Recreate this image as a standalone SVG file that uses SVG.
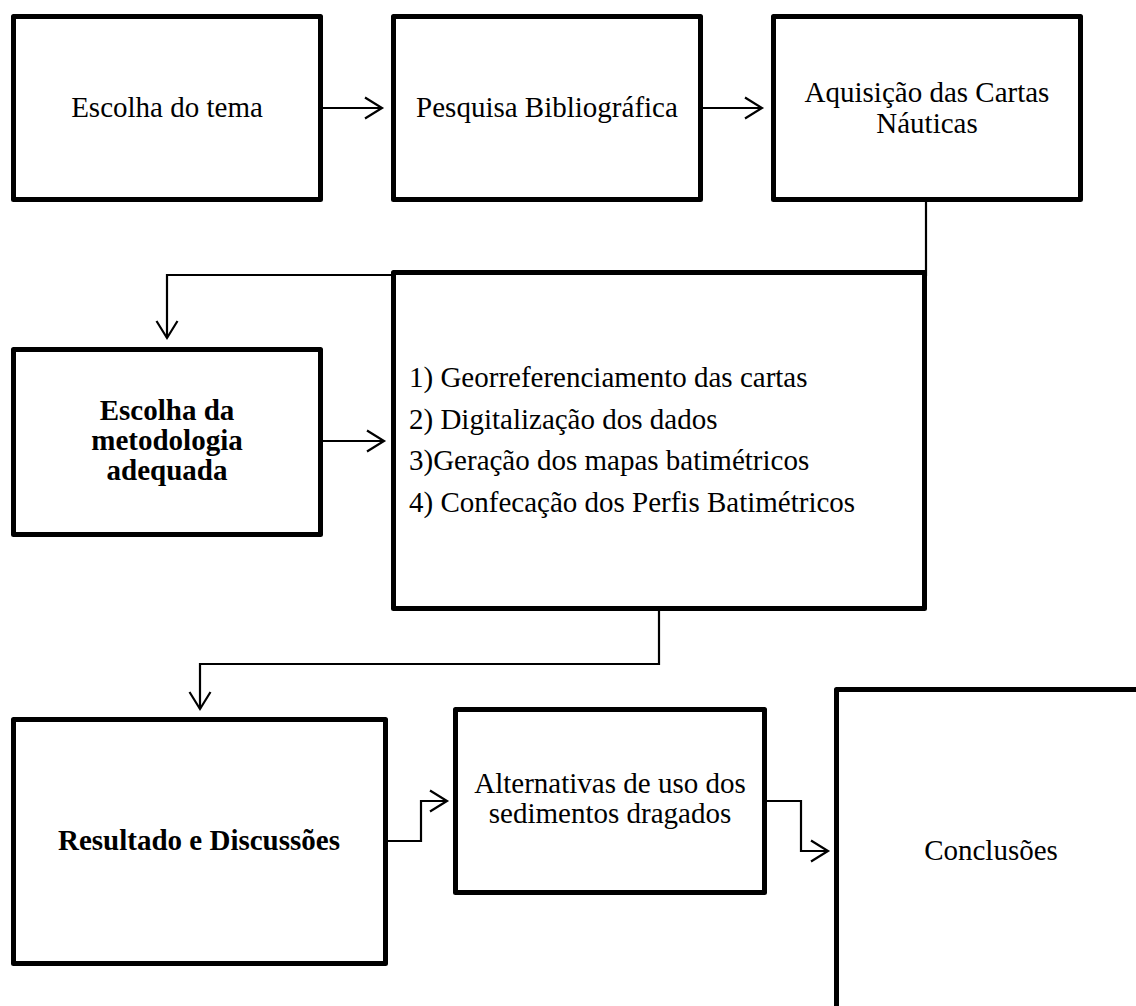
<svg xmlns="http://www.w3.org/2000/svg" width="1136" height="1006" viewBox="0 0 1136 1006">
<defs>
<style>
.box{fill:#fff;stroke:#000;stroke-width:5;stroke-linejoin:round}
.t{font-family:"Liberation Serif","Times New Roman",serif;font-size:29px;fill:#000}
.c{text-anchor:middle}
.b{font-weight:bold}
.con{fill:none;stroke:#000;stroke-width:2.2}
</style>
<marker id="ah" markerUnits="userSpaceOnUse" markerWidth="24" markerHeight="26" refX="18" refY="12" orient="auto" viewBox="0 0 24 26">
<path d="M1,1.5 L18,12 L1,22.5" fill="none" stroke="#000" stroke-width="2.2"/>
</marker>
</defs>
<rect width="1136" height="1006" fill="#fff"/>
<g id="connectors">
<path class="con" d="M323,108 H382" marker-end="url(#ah)"/>
<path class="con" d="M703,108 H762" marker-end="url(#ah)"/>
<path class="con" d="M926,202 V275 H167 V338" marker-end="url(#ah)"/>
<path class="con" d="M323,441 H384" marker-end="url(#ah)"/>
<path class="con" d="M659,611 V664 H200 V709" marker-end="url(#ah)"/>
<path class="con" d="M388,841 H421 V801 H447" marker-end="url(#ah)"/>
<path class="con" d="M767,801 H801 V851 H828" marker-end="url(#ah)"/>
</g>
<g id="n1">
<rect class="box" x="13.5" y="16.5" width="307" height="183"/>
<text class="t c" x="167" y="117">Escolha do tema</text>
</g>
<g id="n2">
<rect class="box" x="393.5" y="16.5" width="307" height="183"/>
<text class="t c" x="547" y="117">Pesquisa Bibliográfica</text>
</g>
<g id="n3">
<rect class="box" x="773.5" y="16.5" width="307" height="183"/>
<text class="t c" x="927" y="102">Aquisição das Cartas</text>
<text class="t c" x="927" y="133">Náuticas</text>
</g>
<g id="n4">
<rect class="box" x="13.5" y="349.5" width="307" height="185"/>
<text class="t c b" x="167" y="420">Escolha da</text>
<text class="t c b" x="167" y="450">metodologia</text>
<text class="t c b" x="167" y="480">adequada</text>
</g>
<g id="n5">
<rect class="box" x="393.5" y="272.5" width="531" height="336"/>
<text class="t" x="409" y="387">1) Georreferenciamento das cartas</text>
<text class="t" x="409" y="429">2) Digitalização dos dados</text>
<text class="t" x="409" y="470">3)Geração dos mapas batimétricos</text>
<text class="t" x="409" y="512">4) Confecação dos Perfis Batimétricos</text>
</g>
<g id="n6">
<rect class="box" x="13.5" y="719.5" width="372" height="244"/>
<text class="t c b" x="199" y="850">Resultado e Discussões</text>
</g>
<g id="n7">
<rect class="box" x="455.5" y="709.5" width="309" height="183"/>
<text class="t c" x="610" y="793">Alternativas de uso dos</text>
<text class="t c" x="610" y="823">sedimentos dragados</text>
</g>
<g id="n8">
<rect class="box" x="836.5" y="689.5" width="400" height="400"/>
<text class="t c" x="991" y="860">Conclusões</text>
</g>
</svg>
